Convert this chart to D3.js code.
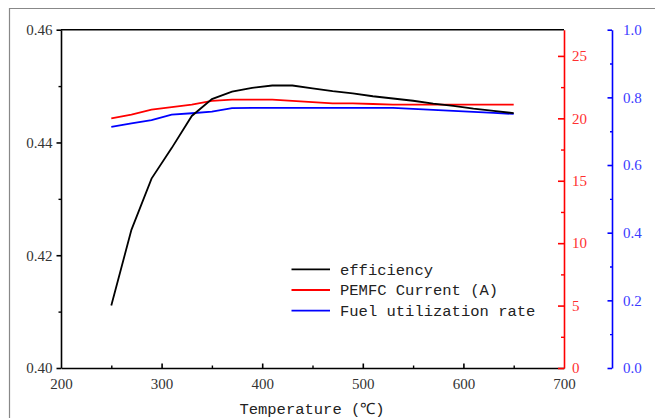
<!DOCTYPE html>
<html><head><meta charset="utf-8">
<script src="https://cdn.jsdelivr.net/npm/d3@7"></script>
<style>
body{margin:0;background:#fff;}
svg{display:block;}
.tk text{font-family:"Liberation Serif","DejaVu Serif",serif !important;font-size:15px !important;}
.mn{font-family:"Liberation Mono","DejaVu Sans Mono",monospace;font-size:15.5px;}
</style></head>
<body>
<svg id="c" width="655" height="418"></svg>
<script>
const temperature = [250,270,290,310,330,350,370,390,410,430,450,470,490,510,530,550,570,590,610,630,650];
const efficiency  = [0.4111,0.4245,0.4336,0.4390,0.4447,0.4477,0.4490,0.4497,0.4501,0.4501,0.4496,0.4491,0.4487,0.4482,0.4478,0.4474,0.4469,0.4465,0.4460,0.4456,0.4452];
const current     = [20.0,20.3,20.7,20.9,21.1,21.4,21.5,21.5,21.5,21.4,21.3,21.2,21.2,21.15,21.1,21.1,21.1,21.1,21.1,21.1,21.1];
const fuelUtil    = [0.713,0.723,0.733,0.749,0.753,0.758,0.768,0.769,0.769,0.769,0.769,0.769,0.769,0.769,0.769,0.766,0.763,0.760,0.757,0.754,0.751];
const xTicks = [200,300,400,500,600,700];
const xMinor = [250,350,450,550,650];
const leftTicks = [0.40,0.42,0.44,0.46];
const leftMinor = [0.41,0.43,0.45];
const redTicks = [0,5,10,15,20,25];
const redMinor = [2.5,7.5,12.5,17.5,22.5];
const blueTicks = [0,0.2,0.4,0.6,0.8,1.0];
const blueMinor = [0.1,0.3,0.5,0.7,0.9];
const seriesNames = ["efficiency","PEMFC Current (A)","Fuel utilization rate"];
const xTitle = "Temperature (\u2103)";

const svg = d3.select("#c");
const L=61, R=564, T=29.7, B=368, BX=612;
const x = d3.scaleLinear().domain([200,700]).range([L,R]);
const yL = d3.scaleLinear().domain([0.40,0.46]).range([B,T]);
const yR = d3.scaleLinear().domain([0,27.1]).range([B,T]);
const yB = d3.scaleLinear().domain([0,1]).range([B,T]);

// outer frame
svg.append("path").attr("d",`M9.5,418 L9.5,8.5 L655,8.5`).attr("fill","none").attr("stroke","#888").attr("stroke-width",1.2);

function styleAxis(g,color,sw,tcolor){
  g.attr("class","tk").attr("font-family",null).attr("font-size",null);
  g.select(".domain").attr("stroke",color).attr("stroke-width",sw);
  g.selectAll(".tick line").attr("stroke",color).attr("stroke-width",sw);
  g.selectAll("text").attr("fill",tcolor);
}
function styleMinor(g,color){
  g.select(".domain").remove();
  g.selectAll("line").attr("stroke",color).attr("stroke-width",1.4);
}

// top border
svg.append("line").attr("x1",L).attr("x2",R).attr("y1",T).attr("y2",T).attr("stroke","#000").attr("stroke-width",1.6);

// left axis
const gl = svg.append("g").attr("transform",`translate(${L},0)`)
  .call(d3.axisLeft(yL).tickValues(leftTicks).tickFormat(d3.format(".2f")).tickSize(4.5).tickSizeOuter(0).tickPadding(4));
styleAxis(gl,"#000",1.6,"#333");
styleMinor(svg.append("g").attr("transform",`translate(${L},0)`)
  .call(d3.axisLeft(yL).tickValues(leftMinor).tickFormat("").tickSize(2.5).tickSizeOuter(0)),"#000");

// bottom axis
const gb = svg.append("g").attr("transform",`translate(0,${B})`)
  .call(d3.axisBottom(x).tickValues(xTicks).tickFormat(d3.format("d")).tickSize(-4.5).tickSizeOuter(0).tickPadding(10));
styleAxis(gb,"#000",1.6,"#333");
gb.selectAll(".tick line").filter(d=>d===200||d===700).remove();
styleMinor(svg.append("g").attr("transform",`translate(0,${B})`)
  .call(d3.axisBottom(x).tickValues(xMinor).tickFormat("").tickSize(-2.5).tickSizeOuter(0)),"#000");

// red axis
const gr = svg.append("g").attr("transform",`translate(${R},0)`)
  .call(d3.axisRight(yR).tickValues(redTicks).tickFormat(d3.format("d")).tickSize(-6).tickSizeOuter(0).tickPadding(8));
styleAxis(gr,"#ff0000",1.6,"#ff3030");
styleMinor(svg.append("g").attr("transform",`translate(${R},0)`)
  .call(d3.axisRight(yR).tickValues(redMinor).tickFormat("").tickSize(-3).tickSizeOuter(0)),"#ff0000");

// blue axis
const gbl = svg.append("g").attr("transform",`translate(${BX},0)`)
  .call(d3.axisRight(yB).tickValues(blueTicks).tickFormat(d3.format(".1f")).tickSize(-4.5).tickSizeOuter(0).tickPadding(11));
styleAxis(gbl,"#0000ff",1.6,"#3a3aff");
styleMinor(svg.append("g").attr("transform",`translate(${BX},0)`)
  .call(d3.axisRight(yB).tickValues(blueMinor).tickFormat("").tickSize(-2).tickSizeOuter(0)),"#0000ff");

// lines
const mk = (ys,vals)=>d3.line().x((d,i)=>x(temperature[i])).y((d,i)=>ys(vals[i]))(temperature);
svg.append("path").attr("d",mk(yR,current)).attr("fill","none").attr("stroke","#ff0000").attr("stroke-width",1.8);
svg.append("path").attr("d",mk(yB,fuelUtil)).attr("fill","none").attr("stroke","#0000ff").attr("stroke-width",1.8);
svg.append("path").attr("d",mk(yL,efficiency)).attr("fill","none").attr("stroke","#000").attr("stroke-width",1.8);

// legend
const legColors = ["#000","#ff0000","#0000ff"];
const legY = [269.3,290,310.7];
seriesNames.forEach((n,i)=>{
  svg.append("line").attr("x1",291.5).attr("x2",330).attr("y1",legY[i]).attr("y2",legY[i]).attr("stroke",legColors[i]).attr("stroke-width",1.8);
  svg.append("text").attr("class","mn").attr("x",340).attr("y",legY[i]).attr("dy","0.35em").text(n).attr("fill","#222");
});

// x title
svg.append("text").attr("class","mn").attr("x",312).attr("y",409).attr("dy","0.35em").attr("text-anchor","middle").text(xTitle).attr("fill","#222");
</script>
</body></html>
